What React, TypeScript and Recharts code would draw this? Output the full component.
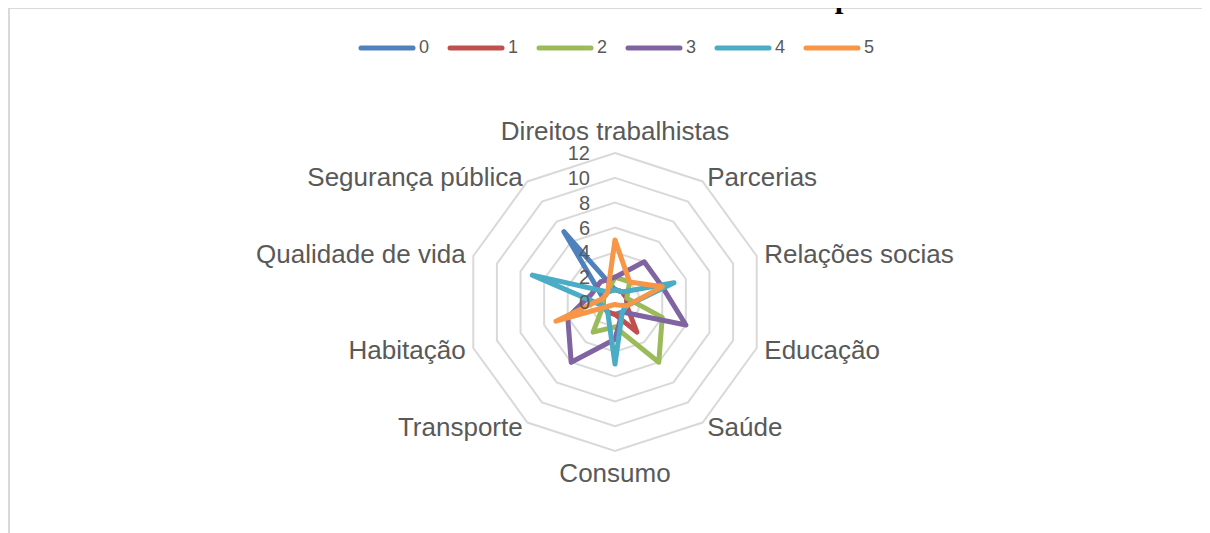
import React from "react";
import {
  RadarChart,
  Radar,
  PolarGrid,
  PolarAngleAxis,
  PolarRadiusAxis,
  Legend,
} from "recharts";

const categories = [
  "Direitos trabalhistas",
  "Parcerias",
  "Relações socias",
  "Educação",
  "Saúde",
  "Consumo",
  "Transporte",
  "Habitação",
  "Qualidade de vida",
  "Segurança pública",
];

const s0 = [1, 1, 1, 1, 1, 1, 1, 1, 1, 7];
const s1 = [1, 1, 1, 1, 3, 1, 1, 1, 1, 1];
const s2 = [2, 2, 1, 4, 6, 2, 3, 1, 1, 1];
const s3 = [2, 4, 4, 6, 1, 3, 6, 4, 2, 2];
const s4 = [1, 1, 5, 1, 1, 5, 1, 1, 7, 1];
const s5 = [5, 2, 4, 1, 0.3, 0.2, 0.3, 5, 1, 1];

const seriesNames = ["0", "1", "2", "3", "4", "5"];
const seriesValues = [s0, s1, s2, s3, s4, s5];
const colors = ["#4F81BD", "#C0504D", "#9BBB59", "#8064A2", "#4BACC6", "#F79646"];
const radiusTicks = [0, 2, 4, 6, 8, 10, 12];

const data = categories.map((name, i) => {
  const row: any = { name };
  seriesNames.forEach((s, k) => {
    row["s" + s] = seriesValues[k][i];
  });
  return row;
});

const OUTER = 149;

const AngleTick = (props: any) => {
  const { x, y, cx, cy, payload } = props;
  const dx = x - cx;
  const dy = y - cy;
  const d = Math.hypot(dx, dy) || 1;
  const ux = dx / d;
  const uy = dy / d;
  const vx = cx + ux * OUTER;
  const vy = cy + uy * OUTER;
  const anchor = ux > 0.1 ? "start" : ux < -0.1 ? "end" : "middle";
  let oy = uy * 6;
  if (Math.abs(uy) > 0.95) oy += uy > 0 ? 16 : -16;
  return (
    <text
      x={vx + ux * 8}
      y={vy + oy}
      textAnchor={anchor}
      dominantBaseline="central"
      fill="#595959"
      fontSize={26}
      fontFamily="'Liberation Sans', Arial, sans-serif"
    >
      {payload.value}
    </text>
  );
};

const RadiusTick = (props: any) => {
  const { x, y, payload } = props;
  return (
    <text
      x={x - 25}
      y={y}
      textAnchor="end"
      dominantBaseline="central"
      fill="#595959"
      fontSize={20}
      fontFamily="'Liberation Sans', Arial, sans-serif"
    >
      {payload.value}
    </text>
  );
};

const LegendContent = () => (
  <div
    style={{
      display: "flex",
      justifyContent: "center",
      alignItems: "center",
      fontFamily: "'Liberation Sans Narrow', 'Liberation Sans', Arial, sans-serif",
      fontSize: 18,
      color: "#595959",
    }}
  >
    {seriesNames.map((n, i) => (
      <div key={n} style={{ display: "flex", alignItems: "center", marginRight: 18 }}>
        <svg width={58} height={10} style={{ marginRight: 3 }}>
          <line x1={3} y1={5} x2={55} y2={5} stroke={colors[i]} strokeWidth={5} strokeLinecap="round" />
        </svg>
        <span>{n}</span>
      </div>
    ))}
  </div>
);

export default function App() {
  return (
    <div style={{ position: "relative" }}>
      <div
        style={{
          position: "absolute",
          top: -26,
          left: 2,
          width: 1210,
          whiteSpace: "nowrap",
          fontFamily: "'Liberation Serif', 'Times New Roman', serif",
          fontWeight: "bold",
          fontSize: 31,
          lineHeight: "31px",
          zIndex: 2,
        }}
      >
        Gráfico 11 – Influência das variáveis sociais sobre a renda dos produtores convencionais
      </div>
      <div
        style={{
          position: "relative",
          marginTop: -1,
          width: 1210,
          height: 530,
          borderLeft: "2px solid #d9d9d9",
          borderTop: "2px solid #d9d9d9",
          background: "#fff",
          boxSizing: "border-box",
        }}
      >
        <RadarChart
          width={1200}
          height={525}
          data={data}
          cx={605}
          cy={293}
          outerRadius={OUTER}
          startAngle={90}
          endAngle={-270}
        >
          <PolarGrid gridType="polygon" radialLines={false} stroke="#d9d9d9" strokeWidth={2} />
          <PolarAngleAxis dataKey="name" tick={AngleTick} tickLine={false} axisLine={false} />
          <PolarRadiusAxis
            angle={90}
            domain={[0, 12]}
            ticks={radiusTicks as any}
            tickCount={7}
            tick={RadiusTick}
            axisLine={false}
            tickLine={false}
          />
          <Legend
            verticalAlign="top"
            content={LegendContent}
            wrapperStyle={{ top: 28, left: 15, width: 1200 }}
          />
          {seriesNames.map((n, i) => (
            <Radar
              key={n}
              name={n}
              dataKey={"s" + n}
              stroke={colors[i]}
              strokeWidth={5}
              strokeLinejoin="round"
              fill="none"
              fillOpacity={0}
              dot={false}
              isAnimationActive={false}
            />
          ))}
        </RadarChart>
      </div>
    </div>
  );
}
